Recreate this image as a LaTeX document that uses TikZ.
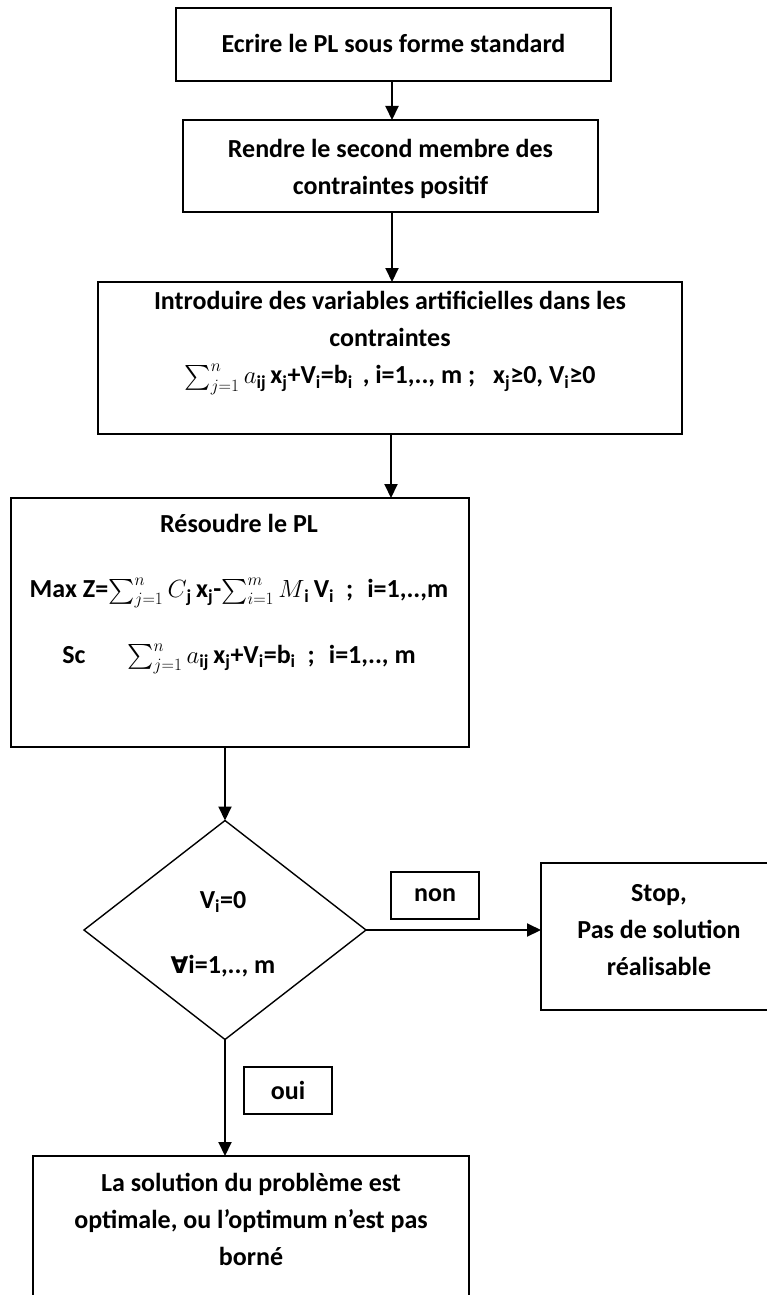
\documentclass[tikz,border=0pt]{standalone}
\usepackage{amsmath}
\usepackage{fontspec}
\setmainfont{Carlito}
\newfontfamily\symfont{DejaVu Sans}
\usetikzlibrary{shapes.geometric,arrows.meta}

\begin{document}
\begin{tikzpicture}[x=1pt,y=-1pt,
  every node/.style={inner sep=0pt,outer sep=0pt},
  box/.style={draw,line width=1.5pt,rectangle},
  txt/.style={align=center,font=\fontsize{26}{37}\selectfont\bfseries},
  lbl/.style={draw,line width=1.5pt,rectangle,minimum width=88pt,minimum height=47pt,
              font=\fontsize{26}{37}\selectfont\bfseries},
  arr/.style={line width=2pt,-{Triangle[length=14pt,width=13pt]}}]
\useasboundingbox (0,0) rectangle (767,1295);
\clip (0,0) rectangle (767,1295);

% process boxes
\node[box,minimum width=435pt,minimum height=73pt]  (b1) at (393.5,44.5) {};
\node[box,minimum width=415pt,minimum height=92pt]  (b2) at (390.5,166) {};
\node[box,minimum width=584pt,minimum height=152pt] (b3) at (390,358) {};
\node[box,minimum width=458pt,minimum height=249pt] (b4) at (240,622.5) {};
\node[draw,line width=1.4pt,diamond,minimum width=282pt,minimum height=219pt] (dec) at (225,930) {};
\node[box,minimum width=236pt,minimum height=147pt] (stop) at (659,936.5) {};
\node[box,minimum width=436pt,minimum height=184pt] (b5) at (251,1248) {};

% texts
\node[txt] (t1) at (393.5,43) {Ecrire le PL sous forme standard};
\node[txt] (t2) at (390.5,168.5) {Rendre le second membre des\\contraintes positif};
\node[txt] (t3) at (390,343) {Introduire des variables artificielles dans les\\contraintes\\
  $\sum_{j=1}^{n} a$\textsubscript{ij}\,x\textsubscript{j}+V\textsubscript{i}=b\textsubscript{i}\hspace{10pt}, i=1,.., m ;\hspace{18pt}x\textsubscript{j}≥0, V\textsubscript{i}≥0};
\node[txt,font=\fontsize{26}{65.5}\selectfont\bfseries] (t4) at (239,594) {Résoudre le PL\\
  Max Z=$\sum_{j=1}^{n} C$\textsubscript{j}\,x\textsubscript{j}-$\sum_{i=1}^{m} M$\textsubscript{i}\,V\textsubscript{i}\hspace{12pt};\hspace{14pt}i=1,..,m\\
  Sc\hspace{42pt}$\sum_{j=1}^{n} a$\textsubscript{ij}\,x\textsubscript{j}+V\textsubscript{i}=b\textsubscript{i}\hspace{12pt};\hspace{14pt}i=1,.., m};
\node[txt,font=\fontsize{26}{65}\selectfont\bfseries] (t5) at (223,934) {V\textsubscript{i}=0\\{\symfont\fontsize{23}{65}\selectfont ∀}i=1,.., m};
\node[txt] (t6) at (659,930.5) {Stop,\\Pas de solution\\réalisable};
\node[txt] (t7) at (251,1219.5) {La solution du problème est\\optimale, ou l’optimum n’est pas\\borné};

% branch labels
\node[lbl] (non) at (435,895.5) {non};
\node[lbl] (oui) at (288,1090.5) {oui};

% connectors
\draw[arr] (b1.south -| 392,0) -- (b2.north -| 392,0);
\draw[arr] (b2.south -| 392,0) -- (b3.north -| 392,0);
\draw[arr] (b3.south -| 391,0) -- (b4.north -| 391,0);
\draw[arr] (b4.south -| dec.north) -- (dec.north);
\draw[arr] (dec.east) -- (dec.east -| stop.west);
\draw[arr] (dec.south) -- (dec.south |- b5.north);
\end{tikzpicture}
\end{document}
